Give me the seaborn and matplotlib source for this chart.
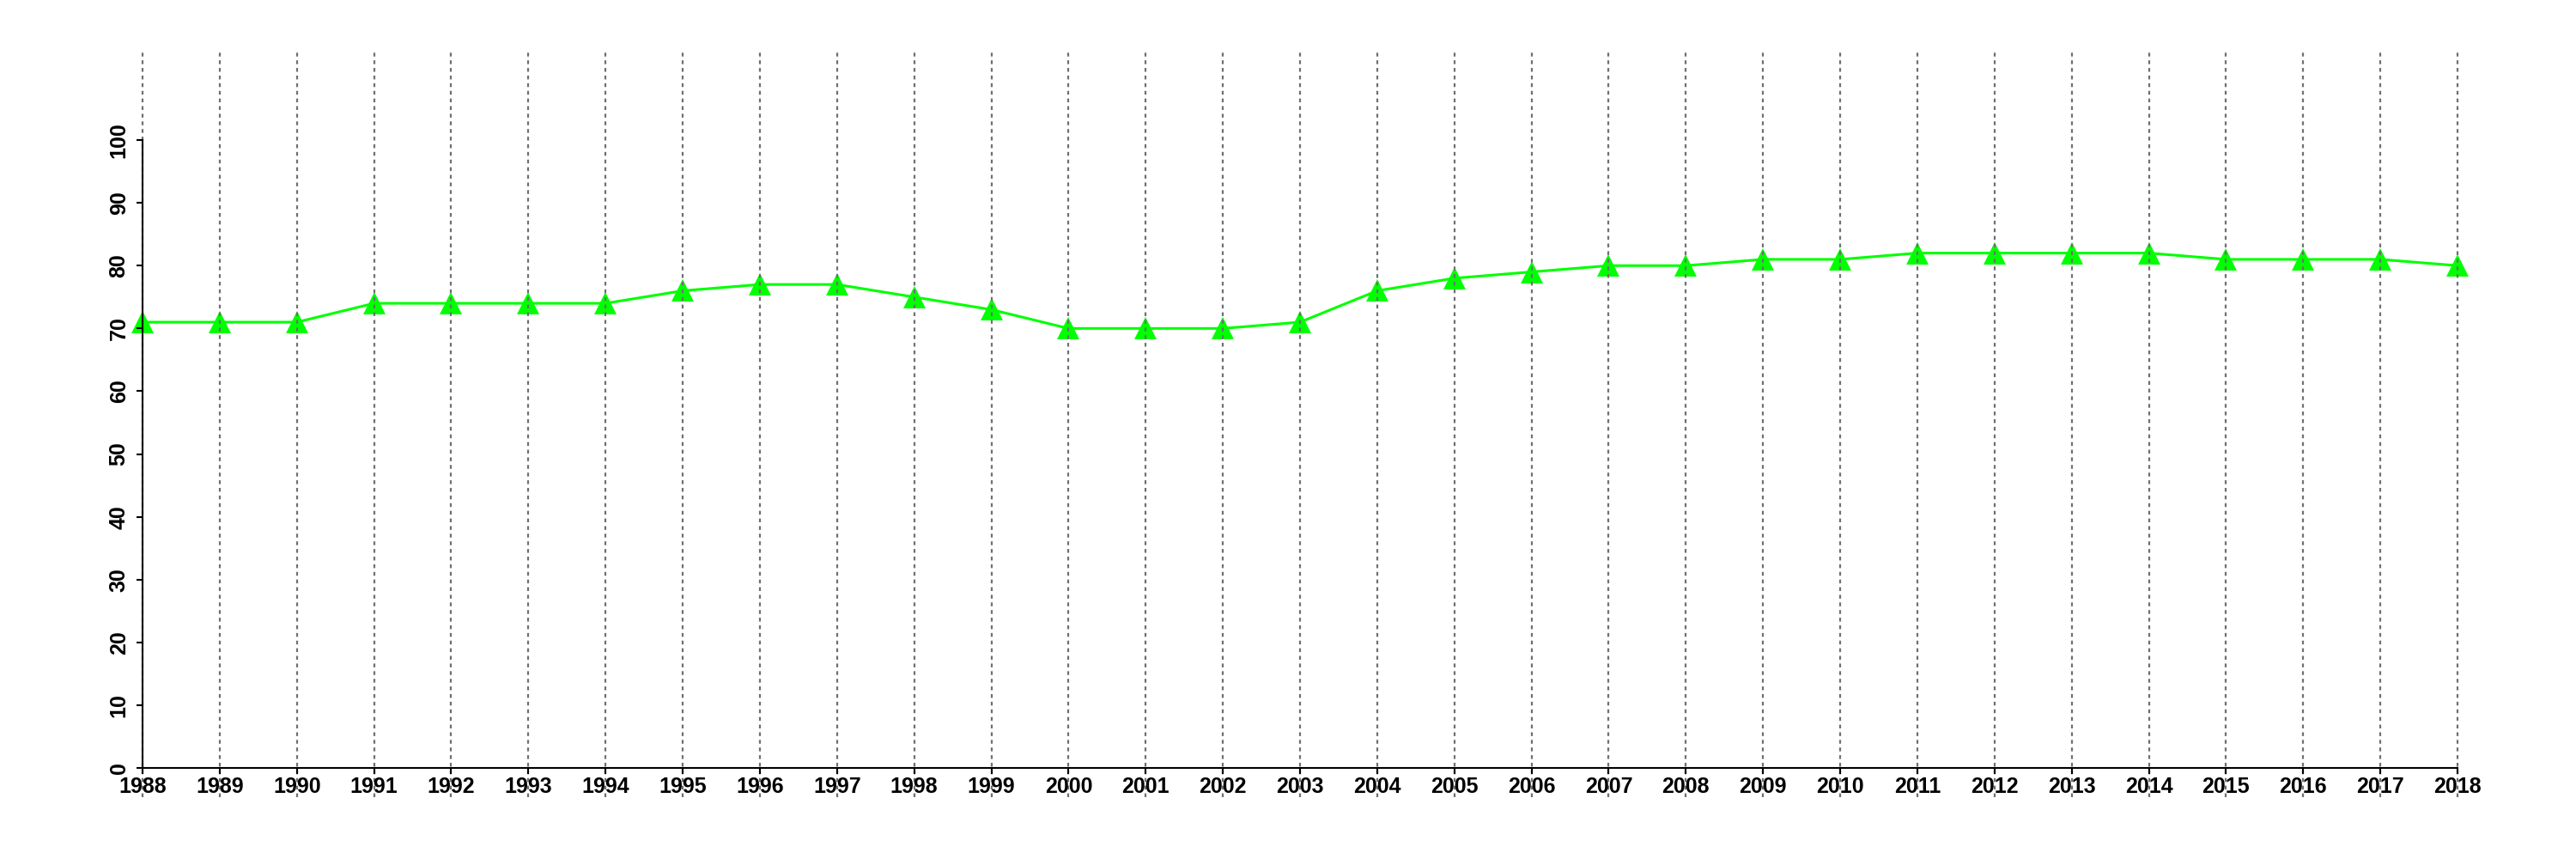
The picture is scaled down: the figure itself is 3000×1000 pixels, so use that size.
import matplotlib
matplotlib.use("Agg")
import matplotlib.pyplot as plt
import seaborn as sns
import pandas as pd

years = list(range(1988, 2019))
values = [71, 71, 71, 74, 74, 74, 74, 76, 77, 77, 75, 73, 70, 70, 70, 71,
          76, 78, 79, 80, 80, 81, 81, 82, 82, 82, 82, 81, 81, 81, 80]
y_ticks = list(range(0, 101, 10))

df = pd.DataFrame({"year": years, "value": values})

sns.set_style("white")
plt.rcParams["font.family"] = ["Liberation Sans", "DejaVu Sans"]
plt.rcParams["font.weight"] = "bold"

fig = plt.figure(figsize=(30, 10), dpi=100)
px_per_year = (2862 - 166) / 30.0
x_left = 166 - 0.2 * px_per_year
x_right = 2862 + 0.2 * px_per_year
ax = fig.add_axes([x_left / 3000, 0.072, (x_right - x_left) / 3000, 0.868])

sns.lineplot(data=df, x="year", y="value", ax=ax, color="#00FF00",
             linewidth=2.2, marker="^", markersize=19, markeredgewidth=0,
             markerfacecolor="#00FF00", zorder=2)

ax.set_xlim(1987.8, 2018.2)
ax.set_ylim(-4.65, 114.1)
ax.set_xticks(years)
ax.set_xticklabels([str(y) for y in years])
ax.set_yticks(y_ticks)
ax.set_yticklabels([str(v) for v in y_ticks])

ax.set_axisbelow(False)
ax.grid(axis="x", color="#707070", linestyle=(0, (2, 2)), linewidth=1.6)
ax.grid(axis="y", visible=False)

for s in ["top", "right"]:
    ax.spines[s].set_visible(False)
ax.spines["left"].set_bounds(0, 100)
ax.spines["left"].set_position(("data", 1988))
ax.spines["left"].set_linewidth(1.5)
ax.spines["bottom"].set_position(("data", 0))
ax.spines["bottom"].set_bounds(1988, 2018)
ax.spines["bottom"].set_linewidth(1.5)
for s in ["left", "bottom"]:
    ax.spines[s].set_color("black")
    ax.spines[s].set_zorder(5)

ax.tick_params(axis="x", direction="out", length=5, width=1.5, pad=2,
               labelsize=18, colors="black", bottom=True)
ax.tick_params(axis="y", direction="out", length=5, width=1.5, pad=6,
               labelsize=18, colors="black", labelrotation=90, left=True)
for lbl in ax.get_yticklabels():
    lbl.set_verticalalignment("center")
for lbl in ax.get_xticklabels() + ax.get_yticklabels():
    lbl.set_fontweight("bold")

ax.set_xlabel("")
ax.set_ylabel("")
ax.set_facecolor("white")
fig.patch.set_facecolor("white")

fig.savefig("out.png", dpi=100, facecolor="white")
